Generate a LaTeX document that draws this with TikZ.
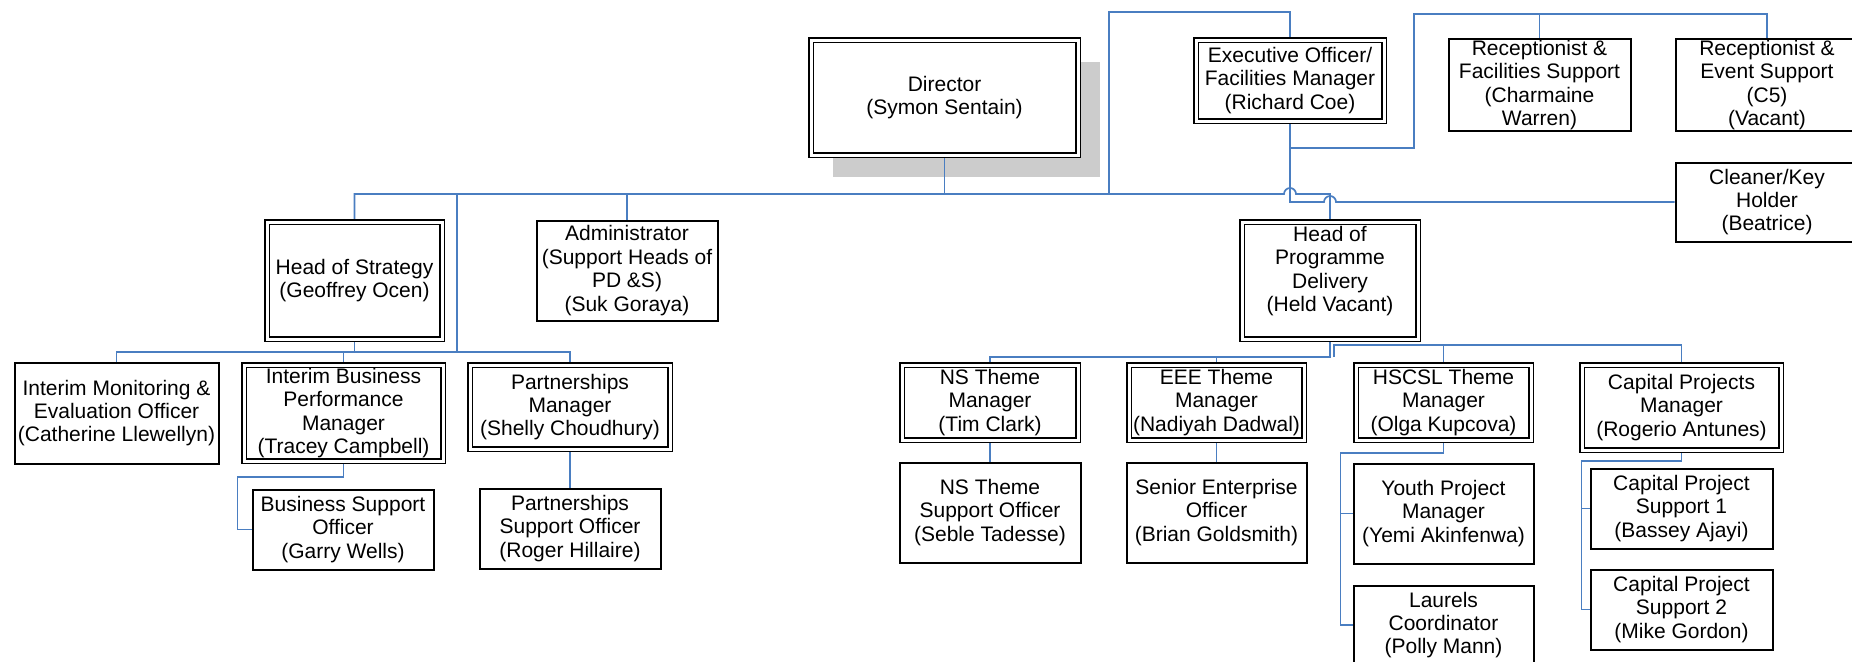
\documentclass[tikz,border=0pt]{standalone}
\usepackage{fontspec}
\setmainfont{Liberation Sans}
\usepackage{tikz}
\usetikzlibrary{calc,shadows}
\definecolor{linkblue}{RGB}{74,126,193}

\begin{document}
\begin{tikzpicture}[x=0.5pt,y=-0.5pt,font=\fontsize{10.5}{11.7}\selectfont]
\tikzstyle{role}=[draw=black,line width=1pt,fill=white,align=center,inner sep=0.5pt,outer sep=0.5pt]
\tikzstyle{headrole}=[role,double,double distance=1.5pt,line width=0.8pt,outer sep=1.55pt]
\tikzstyle{link}=[draw=linkblue,line width=0.85pt]
\useasboundingbox (0,0) rectangle (1852,661);

\node[headrole,minimum width=133.5pt,minimum height=57.5pt,
  drop shadow={shadow xshift=11pt,shadow yshift=-11pt,fill=black!20,opacity=1}]
  (director) at (944.5,97.5) {Director\\(Symon Sentain)};
\node[headrole,minimum width=94pt,minimum height=40.5pt] (exec) at (1290,80.5) {Executive Officer/\\Facilities Manager\\(Richard Coe)};
\node[role,minimum width=91pt,minimum height=45.5pt] (recfac) at (1539.5,85) {Receptionist \&\\Facilities Support\\(Charmaine\\Warren)};
\node[role,minimum width=91.5pt,minimum height=45.5pt] (recevent) at (1767,85) {Receptionist \&\\Event Support\\(C5)\\(Vacant)};
\node[role,minimum width=91.5pt,minimum height=39.5pt] (cleaner) at (1767,202) {Cleaner/Key\\Holder\\(Beatrice)};

\node[headrole,minimum width=87.5pt,minimum height=58.5pt] (hos) at (354.5,280.5) {Head of Strategy\\(Geoffrey Ocen)};
\node[role,minimum width=90.5pt,minimum height=50pt] (admin) at (627,270.5) {Administrator\\(Support Heads of\\PD \&S)\\(Suk Goraya)};
\node[headrole,minimum width=88pt,minimum height=58.5pt] (hopd) at (1330,280.5) {Head of\\Programme\\Delivery\\(Held Vacant)\\\mbox{}};

\node[role,minimum width=102pt,minimum height=50.5pt] (imon) at (116.5,413) {Interim Monitoring \&\\Evaluation Officer\\(Catherine Llewellyn)};
\node[headrole,minimum width=99.5pt,minimum height=48pt] (ibus) at (343.5,413) {Interim Business\\Performance\\Manager\\(Tracey Campbell)};
\node[headrole,minimum width=100pt,minimum height=42pt] (pman) at (570,407) {Partnerships\\Manager\\(Shelly Choudhury)};
\node[role,minimum width=90.5pt,minimum height=40pt] (bso) at (343,529.5) {Business Support\\Officer\\(Garry Wells)};
\node[role,minimum width=90.5pt,minimum height=40pt] (pso) at (570,528.5) {Partnerships\\Support Officer\\(Roger Hillaire)};

\node[headrole,minimum width=88pt,minimum height=37.5pt] (nstm) at (990,402.5) {NS Theme\\Manager\\(Tim Clark)};
\node[headrole,minimum width=87.5pt,minimum height=37.5pt] (eee) at (1216.5,402.5) {EEE Theme\\Manager\\(Nadiyah Dadwal)};
\node[headrole,minimum width=87.5pt,minimum height=37.5pt] (hscsl) at (1443.5,402.5) {HSCSL Theme\\Manager\\(Olga Kupcova)};
\node[headrole,minimum width=99.5pt,minimum height=42.5pt] (cpm) at (1681.5,407.5) {Capital Projects\\Manager\\(Rogerio Antunes)};
\node[role,minimum width=90.5pt,minimum height=50pt] (nsso) at (990,512.5) {NS Theme\\Support Officer\\(Seble Tadesse)};
\node[role,minimum width=90pt,minimum height=50pt] (seo) at (1216.5,512.5) {Senior Enterprise\\Officer\\(Brian Goldsmith)};
\node[role,minimum width=90pt,minimum height=50pt] (ypm) at (1443.5,513.5) {Youth Project\\Manager\\(Yemi Akinfenwa)};
\node[role,minimum width=90pt,minimum height=39.5pt] (laurels) at (1443.5,625) {Laurels\\Coordinator\\(Polly Mann)};
\node[role,minimum width=91pt,minimum height=40pt] (cps1) at (1681.5,508.5) {Capital Project\\Support 1\\(Bassey Ajayi)};
\node[role,minimum width=91pt,minimum height=40pt] (cps2) at (1681.5,609.5) {Capital Project\\Support 2\\(Mike Gordon)};

\coordinate (bus) at (0,194);
\coordinate (sub) at (0,352);
\coordinate (sv) at (457,194);
\coordinate (dtop) at (1109,12);
\coordinate (rb) at (1414,148);
\coordinate (rt) at (1414,14);

\draw[link] (hos.north) |- ($(bus -| exec.south)+(-6,0)$) arc[start angle=180,end angle=0,radius=3pt] -| (hopd.north);
\draw[link] (director.south) -- (director.south |- bus);
\draw[link] (admin.north) -- (admin.north |- bus);
\draw[link] (dtop |- bus) -- (dtop) -| (exec.north);
\draw[link] (exec.south) |- ($(cleaner.west -| hopd.north)+(-6,0)$) arc[start angle=180,end angle=0,radius=3pt] -- (cleaner.west);
\draw[link] (rb -| exec.south) -- (rb) -- (rt) -| (recevent.north);
\draw[link] (rt -| recfac.north) -- (recfac.north);

\draw[link] (imon.north) |- (sub -| pman.north) -- (pman.north);
\draw[link] (hos.south) -- (hos.south |- sub);
\draw[link] (ibus.north) -- (ibus.north |- sub);
\draw[link] (sv) -- (sv |- sub);
\draw[link] (ibus.south) -- ++(0,13) -| ([xshift=-7pt]bso.west) -- (bso.west);
\draw[link] (pman.south) -- (pso.north);

\draw[link] (hopd.south) -- ++(0,15) -| (nstm.north);
\draw[link] (eee.north) -- ++(0,-5);
\draw[link] ($(hopd.south)+(4,15)$) |- ($(cpm.north)+(0,-17)$) -- (cpm.north);
\draw[link] (hscsl.north) -- ++(0,-17);
\draw[link] (nstm.south) -- (nsso.north);
\draw[link] (eee.south) -- (seo.north);
\draw[link] (hscsl.south) -- ++(0,10) -| ([xshift=-6pt]laurels.west) -- (laurels.west);
\draw[link] ([xshift=-6pt]ypm.west) -- (ypm.west);
\draw[link] (cpm.south) -- ++(0,8) -| ([xshift=-4pt]cps2.west) -- (cps2.west);
\draw[link] ([xshift=-4pt]cps1.west) -- (cps1.west);
\end{tikzpicture}
\end{document}
